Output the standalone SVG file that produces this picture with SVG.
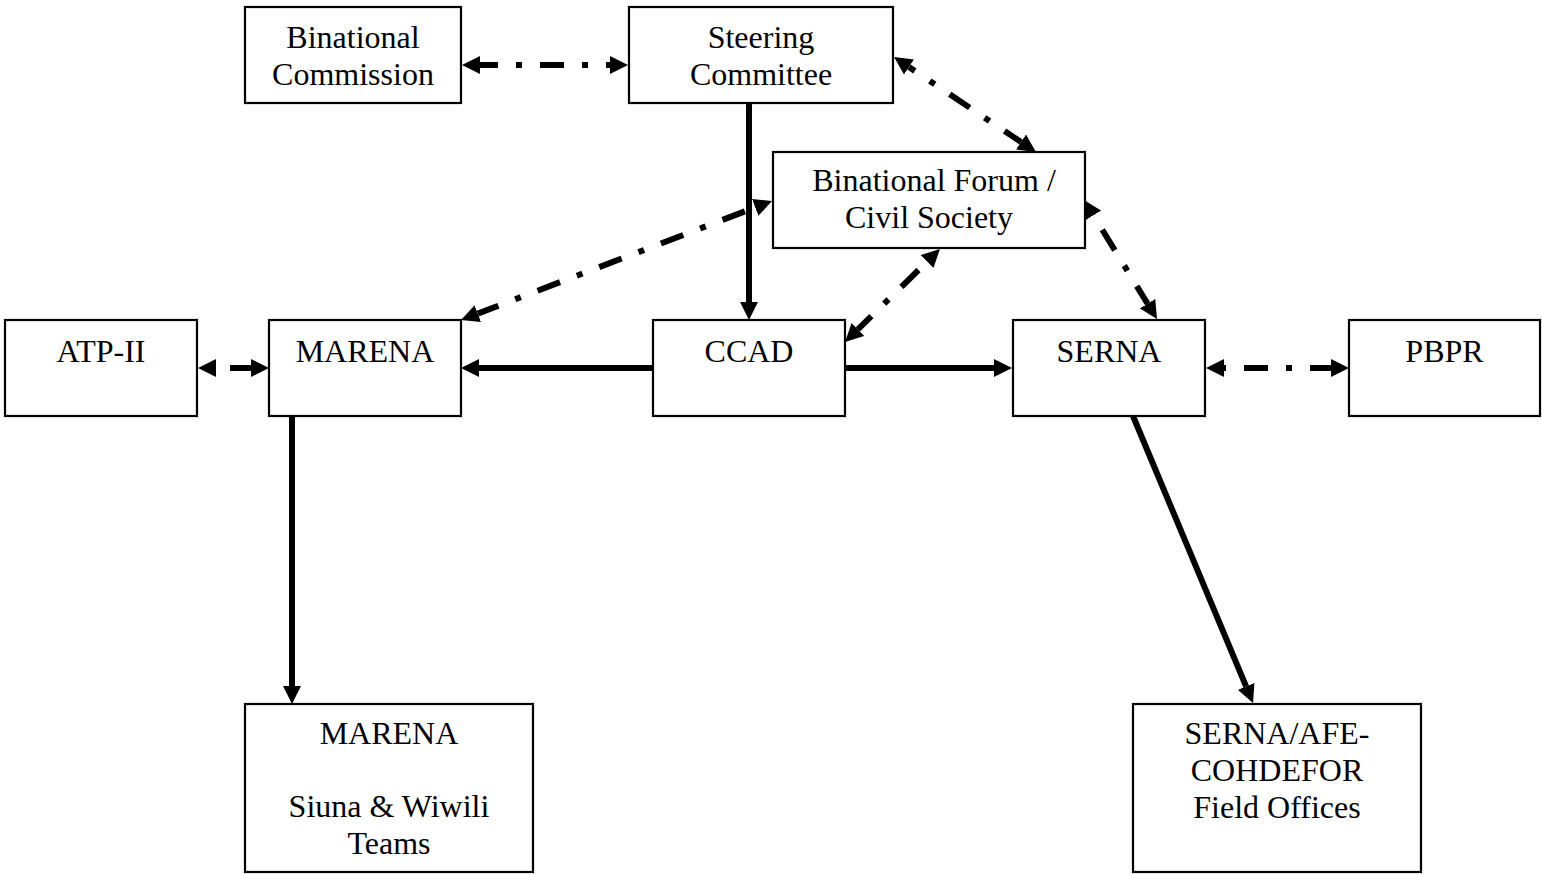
<svg xmlns="http://www.w3.org/2000/svg" width="1542" height="874" viewBox="0 0 1542 874">
<style>
.box{fill:#fff;stroke:#000;stroke-width:2.2}
.t{font-family:"Liberation Serif","Times New Roman",serif;font-size:32px;fill:#000;text-anchor:middle}
.c{fill:none;stroke:#000;stroke-width:6;stroke-linecap:butt}
.dd{stroke-dasharray:24 18 6 18}
</style>
<defs>
<marker id="ah" viewBox="0 0 18 18" markerWidth="18" markerHeight="18" refX="0" refY="9" orient="auto-start-reverse" markerUnits="userSpaceOnUse">
<path d="M0,0 L18,9 L0,18 z" fill="#000"/>
</marker>
</defs>
<rect width="1542" height="874" fill="#fff"/>
<g id="connectors">
<path class="c dd" d="M480,65 L610,65" stroke-dashoffset="6" marker-start="url(#ah)" marker-end="url(#ah)"/>
<path class="c dd" d="M909,67 L1021,142" stroke-dashoffset="17" marker-start="url(#ah)" marker-end="url(#ah)"/>
<path class="c dd" d="M1093.4,215.3 L1147.6,303.7" stroke-dashoffset="49" marker-start="url(#ah)" marker-end="url(#ah)"/>
<path class="c dd" d="M755.2,207.4 L477.8,313.6" stroke-dashoffset="55" marker-start="url(#ah)" marker-end="url(#ah)"/>
<path class="c dd" d="M927.1,261.6 L857.9,329.4" stroke-dashoffset="54" marker-start="url(#ah)" marker-end="url(#ah)"/>
<path class="c" d="M749,103 L749,302" marker-end="url(#ah)"/>
<path class="c" d="M653,368 L479,368" marker-end="url(#ah)"/>
<path class="c" d="M845,368 L994,368" marker-end="url(#ah)"/>
<path class="c" d="M216,368 L251,368" stroke-dasharray="0 14 60" marker-start="url(#ah)" marker-end="url(#ah)"/>
<path class="c dd" d="M1224,368 L1331,368" stroke-dashoffset="46" marker-start="url(#ah)" marker-end="url(#ah)"/>
<path class="c" d="M292,416 L292,686" marker-end="url(#ah)"/>
<path class="c" d="M1133,416 L1246.1,686.4" marker-end="url(#ah)"/>
</g>
<g id="binational-commission">
<rect class="box" x="245" y="7" width="216" height="96"/>
<text class="t" x="353" y="48">Binational</text>
<text class="t" x="353" y="85">Commission</text>
</g>
<g id="steering-committee">
<rect class="box" x="629" y="7" width="264" height="96"/>
<text class="t" x="761" y="48">Steering</text>
<text class="t" x="761" y="85">Committee</text>
</g>
<g id="binational-forum">
<rect class="box" x="773" y="152" width="312" height="96"/>
<text class="t" x="934" y="191">Binational Forum /</text>
<text class="t" x="929" y="228">Civil Society</text>
</g>
<g id="atp-ii">
<rect class="box" x="5" y="320" width="192" height="96"/>
<text class="t" x="101" y="362">ATP-II</text>
</g>
<g id="marena">
<rect class="box" x="269" y="320" width="192" height="96"/>
<text class="t" x="365" y="362">MARENA</text>
</g>
<g id="ccad">
<rect class="box" x="653" y="320" width="192" height="96"/>
<text class="t" x="749" y="362">CCAD</text>
</g>
<g id="serna">
<rect class="box" x="1013" y="320" width="192" height="96"/>
<text class="t" x="1109" y="362">SERNA</text>
</g>
<g id="pbpr">
<rect class="box" x="1349" y="320" width="191" height="96"/>
<text class="t" x="1444.5" y="362">PBPR</text>
</g>
<g id="marena-teams">
<rect class="box" x="245" y="704" width="288" height="168"/>
<text class="t" x="389" y="744">MARENA</text>
<text class="t" x="389" y="817">Siuna &amp; Wiwili</text>
<text class="t" x="389" y="854">Teams</text>
</g>
<g id="serna-field-offices">
<rect class="box" x="1133" y="704" width="288" height="168"/>
<text class="t" x="1277" y="744">SERNA/AFE-</text>
<text class="t" x="1277" y="781">COHDEFOR</text>
<text class="t" x="1277" y="818">Field Offices</text>
</g>
</svg>
